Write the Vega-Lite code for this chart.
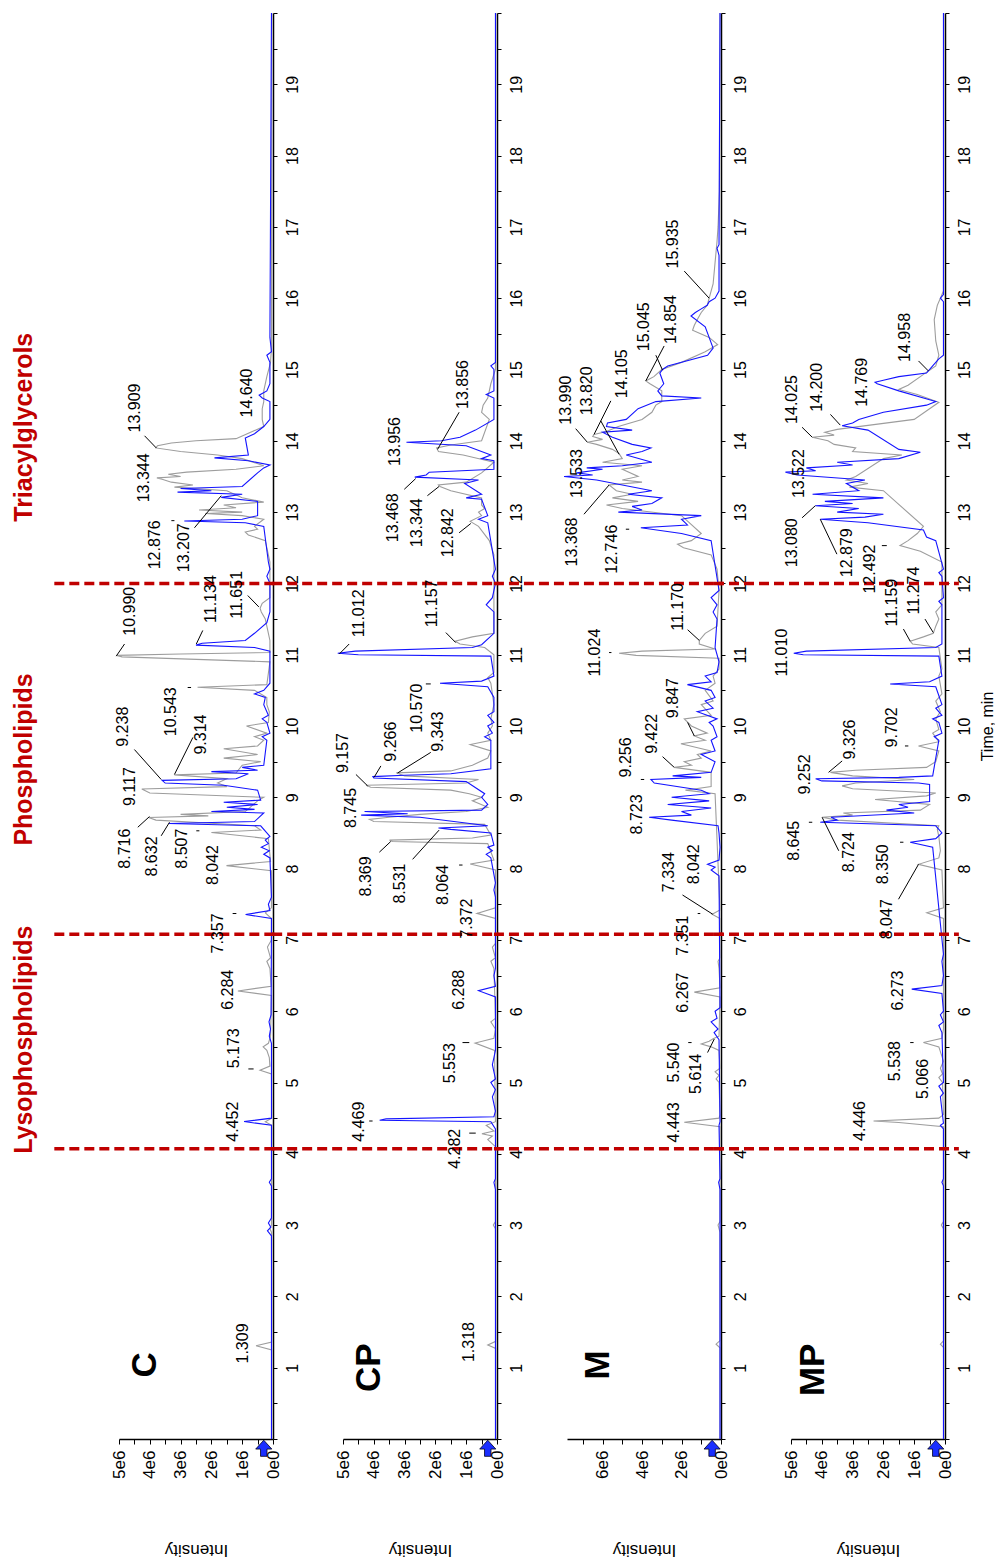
{
"$schema": "https://vega.github.io/schema/vega-lite/v6.json",
"background": "white",
"padding": {"left": 12, "top": 10, "right": 0, "bottom": 0},
"bounds": "flush",
"spacing": 70,
"config": {
  "view": {"stroke": null},
  "text": {"font": "Liberation Sans"},
  "axis": {"grid": false, "domainColor": "#000", "tickColor": "#000", "labelColor": "#000", "titleColor": "#000", "labelFont": "Liberation Sans", "titleFont": "Liberation Sans", "titleFontWeight": "normal", "domainWidth": 1.5, "tickWidth": 1}
},
"datasets": {
"tr": [
{"p":"C","s":"g","t":0,"i":0.04},{"p":"C","s":"g","t":1.25,"i":0.04},{"p":"C","s":"g","t":1.309,"i":0.55},{"p":"C","s":"g","t":1.36,"i":0.04},{"p":"C","s":"g","t":2.9,"i":0.05},{"p":"C","s":"g","t":2.95,"i":0.1},{"p":"C","s":"g","t":3.0,"i":0.05},{"p":"C","s":"g","t":4.4,"i":0.04},{"p":"C","s":"g","t":4.45,"i":0.25},{"p":"C","s":"g","t":4.5,"i":0.04},{"p":"C","s":"g","t":5.12,"i":0.05},{"p":"C","s":"g","t":5.173,"i":0.42},{"p":"C","s":"g","t":5.23,"i":0.1},{"p":"C","s":"g","t":5.35,"i":0.12},{"p":"C","s":"g","t":5.45,"i":0.2},{"p":"C","s":"g","t":5.5,"i":0.32},{"p":"C","s":"g","t":5.55,"i":0.15},{"p":"C","s":"g","t":5.65,"i":0.08},{"p":"C","s":"g","t":6.22,"i":0.05},{"p":"C","s":"g","t":6.284,"i":1.14},{"p":"C","s":"g","t":6.35,"i":0.06},{"p":"C","s":"g","t":6.6,"i":0.1},{"p":"C","s":"g","t":6.7,"i":0.2},{"p":"C","s":"g","t":6.75,"i":0.08},{"p":"C","s":"g","t":6.9,"i":0.18},{"p":"C","s":"g","t":7.0,"i":0.05},{"p":"C","s":"g","t":7.3,"i":0.05},{"p":"C","s":"g","t":7.38,"i":0.25},{"p":"C","s":"g","t":7.45,"i":0.05},{"p":"C","s":"g","t":7.97,"i":0.05},{"p":"C","s":"g","t":8.042,"i":1.51},{"p":"C","s":"g","t":8.1,"i":0.08},{"p":"C","s":"g","t":8.42,"i":0.15},{"p":"C","s":"g","t":8.507,"i":2.0},{"p":"C","s":"g","t":8.54,"i":0.4},{"p":"C","s":"g","t":8.6,"i":0.6},{"p":"C","s":"g","t":8.68,"i":3.8},{"p":"C","s":"g","t":8.716,"i":4.04},{"p":"C","s":"g","t":8.74,"i":2.1},{"p":"C","s":"g","t":8.76,"i":3.0},{"p":"C","s":"g","t":8.8,"i":0.9},{"p":"C","s":"g","t":8.95,"i":0.5},{"p":"C","s":"g","t":9.0,"i":0.3},{"p":"C","s":"g","t":9.06,"i":4.0},{"p":"C","s":"g","t":9.117,"i":4.26},{"p":"C","s":"g","t":9.15,"i":1.5},{"p":"C","s":"g","t":9.2,"i":1.8},{"p":"C","s":"g","t":9.26,"i":1.5},{"p":"C","s":"g","t":9.314,"i":3.2},{"p":"C","s":"g","t":9.34,"i":1.2},{"p":"C","s":"g","t":9.45,"i":1.0},{"p":"C","s":"g","t":9.5,"i":0.4},{"p":"C","s":"g","t":9.55,"i":1.6},{"p":"C","s":"g","t":9.6,"i":0.5},{"p":"C","s":"g","t":9.68,"i":1.6},{"p":"C","s":"g","t":9.72,"i":0.5},{"p":"C","s":"g","t":9.8,"i":0.3},{"p":"C","s":"g","t":9.85,"i":0.6},{"p":"C","s":"g","t":9.9,"i":0.2},{"p":"C","s":"g","t":10.0,"i":0.86},{"p":"C","s":"g","t":10.05,"i":0.15},{"p":"C","s":"g","t":10.2,"i":0.12},{"p":"C","s":"g","t":10.3,"i":0.2},{"p":"C","s":"g","t":10.4,"i":0.2},{"p":"C","s":"g","t":10.5,"i":0.6},{"p":"C","s":"g","t":10.543,"i":2.45},{"p":"C","s":"g","t":10.58,"i":0.2},{"p":"C","s":"g","t":10.9,"i":0.1},{"p":"C","s":"g","t":10.97,"i":4.9},{"p":"C","s":"g","t":10.99,"i":5.08},{"p":"C","s":"g","t":11.01,"i":3.0},{"p":"C","s":"g","t":11.03,"i":0.1},{"p":"C","s":"g","t":11.2,"i":0.1},{"p":"C","s":"g","t":11.5,"i":0.25},{"p":"C","s":"g","t":11.6,"i":0.38},{"p":"C","s":"g","t":11.651,"i":0.42},{"p":"C","s":"g","t":11.72,"i":0.35},{"p":"C","s":"g","t":11.8,"i":0.1},{"p":"C","s":"g","t":12.3,"i":0.1},{"p":"C","s":"g","t":12.5,"i":0.2},{"p":"C","s":"g","t":12.6,"i":0.25},{"p":"C","s":"g","t":12.68,"i":0.8},{"p":"C","s":"g","t":12.72,"i":0.9},{"p":"C","s":"g","t":12.76,"i":0.5},{"p":"C","s":"g","t":12.8,"i":0.6},{"p":"C","s":"g","t":12.9,"i":0.3},{"p":"C","s":"g","t":12.95,"i":1.0},{"p":"C","s":"g","t":12.98,"i":2.2},{"p":"C","s":"g","t":13.0,"i":1.0},{"p":"C","s":"g","t":13.03,"i":2.4},{"p":"C","s":"g","t":13.06,"i":1.2},{"p":"C","s":"g","t":13.1,"i":1.6},{"p":"C","s":"g","t":13.14,"i":0.3},{"p":"C","s":"g","t":13.2,"i":1.0},{"p":"C","s":"g","t":13.3,"i":1.5},{"p":"C","s":"g","t":13.35,"i":3.2},{"p":"C","s":"g","t":13.38,"i":2.6},{"p":"C","s":"g","t":13.42,"i":3.3},{"p":"C","s":"g","t":13.46,"i":3.6},{"p":"C","s":"g","t":13.48,"i":3.77},{"p":"C","s":"g","t":13.5,"i":3.0},{"p":"C","s":"g","t":13.53,"i":3.4},{"p":"C","s":"g","t":13.56,"i":2.8},{"p":"C","s":"g","t":13.6,"i":1.2},{"p":"C","s":"g","t":13.65,"i":0.3},{"p":"C","s":"g","t":13.75,"i":1.0},{"p":"C","s":"g","t":13.8,"i":1.8},{"p":"C","s":"g","t":13.85,"i":3.0},{"p":"C","s":"g","t":13.9,"i":3.8},{"p":"C","s":"g","t":13.93,"i":3.75},{"p":"C","s":"g","t":13.97,"i":3.3},{"p":"C","s":"g","t":14.0,"i":2.5},{"p":"C","s":"g","t":14.03,"i":1.2},{"p":"C","s":"g","t":14.2,"i":0.3},{"p":"C","s":"g","t":14.3,"i":0.35},{"p":"C","s":"g","t":14.45,"i":0.35},{"p":"C","s":"g","t":14.55,"i":0.3},{"p":"C","s":"g","t":14.7,"i":0.3},{"p":"C","s":"g","t":14.9,"i":0.2},{"p":"C","s":"g","t":15.1,"i":0.08},{"p":"C","s":"g","t":15.3,"i":0.05},{"p":"C","s":"g","t":20,"i":0.04},
{"p":"C","s":"b","t":0,"i":0.05},{"p":"C","s":"b","t":2.85,"i":0.05},{"p":"C","s":"b","t":2.92,"i":0.18},{"p":"C","s":"b","t":2.97,"i":0.07},{"p":"C","s":"b","t":3.03,"i":0.15},{"p":"C","s":"b","t":3.1,"i":0.05},{"p":"C","s":"b","t":3.55,"i":0.05},{"p":"C","s":"b","t":3.6,"i":0.12},{"p":"C","s":"b","t":3.65,"i":0.05},{"p":"C","s":"b","t":4.4,"i":0.05},{"p":"C","s":"b","t":4.452,"i":0.94},{"p":"C","s":"b","t":4.5,"i":0.05},{"p":"C","s":"b","t":5.55,"i":0.05},{"p":"C","s":"b","t":5.65,"i":0.12},{"p":"C","s":"b","t":5.75,"i":0.08},{"p":"C","s":"b","t":5.85,"i":0.13},{"p":"C","s":"b","t":5.95,"i":0.06},{"p":"C","s":"b","t":7.3,"i":0.05},{"p":"C","s":"b","t":7.357,"i":0.89},{"p":"C","s":"b","t":7.41,"i":0.1},{"p":"C","s":"b","t":7.5,"i":0.15},{"p":"C","s":"b","t":7.6,"i":0.05},{"p":"C","s":"b","t":8.15,"i":0.1},{"p":"C","s":"b","t":8.2,"i":0.3},{"p":"C","s":"b","t":8.25,"i":0.12},{"p":"C","s":"b","t":8.3,"i":0.38},{"p":"C","s":"b","t":8.35,"i":0.15},{"p":"C","s":"b","t":8.4,"i":0.25},{"p":"C","s":"b","t":8.45,"i":0.1},{"p":"C","s":"b","t":8.6,"i":0.4},{"p":"C","s":"b","t":8.632,"i":3.38},{"p":"C","s":"b","t":8.66,"i":0.6},{"p":"C","s":"b","t":8.78,"i":0.3},{"p":"C","s":"b","t":8.8,"i":2.0},{"p":"C","s":"b","t":8.83,"i":0.6},{"p":"C","s":"b","t":8.86,"i":1.5},{"p":"C","s":"b","t":8.9,"i":0.5},{"p":"C","s":"b","t":8.93,"i":1.6},{"p":"C","s":"b","t":8.96,"i":0.4},{"p":"C","s":"b","t":9.1,"i":0.5},{"p":"C","s":"b","t":9.17,"i":1.6},{"p":"C","s":"b","t":9.2,"i":3.5},{"p":"C","s":"b","t":9.238,"i":3.6},{"p":"C","s":"b","t":9.26,"i":1.2},{"p":"C","s":"b","t":9.33,"i":0.8},{"p":"C","s":"b","t":9.36,"i":2.0},{"p":"C","s":"b","t":9.38,"i":0.5},{"p":"C","s":"b","t":9.42,"i":1.0},{"p":"C","s":"b","t":9.45,"i":0.3},{"p":"C","s":"b","t":9.8,"i":0.2},{"p":"C","s":"b","t":9.85,"i":0.35},{"p":"C","s":"b","t":9.9,"i":0.1},{"p":"C","s":"b","t":10.05,"i":0.2},{"p":"C","s":"b","t":10.1,"i":0.35},{"p":"C","s":"b","t":10.15,"i":0.15},{"p":"C","s":"b","t":10.3,"i":0.3},{"p":"C","s":"b","t":10.4,"i":0.25},{"p":"C","s":"b","t":10.45,"i":0.6},{"p":"C","s":"b","t":10.5,"i":0.3},{"p":"C","s":"b","t":10.6,"i":0.1},{"p":"C","s":"b","t":10.9,"i":0.1},{"p":"C","s":"b","t":11.05,"i":0.1},{"p":"C","s":"b","t":11.1,"i":0.6},{"p":"C","s":"b","t":11.134,"i":2.5},{"p":"C","s":"b","t":11.16,"i":2.3},{"p":"C","s":"b","t":11.2,"i":0.9},{"p":"C","s":"b","t":11.3,"i":0.6},{"p":"C","s":"b","t":11.45,"i":0.2},{"p":"C","s":"b","t":11.6,"i":0.1},{"p":"C","s":"b","t":12.0,"i":0.1},{"p":"C","s":"b","t":12.1,"i":0.2},{"p":"C","s":"b","t":12.2,"i":0.1},{"p":"C","s":"b","t":12.3,"i":0.15},{"p":"C","s":"b","t":12.8,"i":0.3},{"p":"C","s":"b","t":12.85,"i":0.9},{"p":"C","s":"b","t":12.876,"i":2.88},{"p":"C","s":"b","t":12.9,"i":1.0},{"p":"C","s":"b","t":12.95,"i":0.5},{"p":"C","s":"b","t":13.15,"i":0.5},{"p":"C","s":"b","t":13.207,"i":1.68},{"p":"C","s":"b","t":13.25,"i":1.0},{"p":"C","s":"b","t":13.28,"i":3.1},{"p":"C","s":"b","t":13.3,"i":2.0},{"p":"C","s":"b","t":13.33,"i":3.0},{"p":"C","s":"b","t":13.36,"i":1.0},{"p":"C","s":"b","t":13.55,"i":0.5},{"p":"C","s":"b","t":13.62,"i":0.3},{"p":"C","s":"b","t":13.66,"i":0.1},{"p":"C","s":"b","t":13.72,"i":0.8},{"p":"C","s":"b","t":13.76,"i":1.9},{"p":"C","s":"b","t":13.8,"i":0.8},{"p":"C","s":"b","t":14.04,"i":0.9},{"p":"C","s":"b","t":14.1,"i":0.6},{"p":"C","s":"b","t":14.2,"i":0.3},{"p":"C","s":"b","t":14.3,"i":0.1},{"p":"C","s":"b","t":14.55,"i":0.1},{"p":"C","s":"b","t":14.6,"i":0.35},{"p":"C","s":"b","t":14.64,"i":0.45},{"p":"C","s":"b","t":14.7,"i":0.2},{"p":"C","s":"b","t":14.8,"i":0.1},{"p":"C","s":"b","t":15.1,"i":0.1},{"p":"C","s":"b","t":15.2,"i":0.2},{"p":"C","s":"b","t":15.25,"i":0.05},{"p":"C","s":"b","t":15.45,"i":0.1},{"p":"C","s":"b","t":20,"i":0.05},
{"p":"CP","s":"g","t":0,"i":0.04},{"p":"CP","s":"g","t":1.27,"i":0.04},{"p":"CP","s":"g","t":1.318,"i":0.3},{"p":"CP","s":"g","t":1.37,"i":0.04},{"p":"CP","s":"g","t":2.95,"i":0.05},{"p":"CP","s":"g","t":3.0,"i":0.12},{"p":"CP","s":"g","t":3.05,"i":0.05},{"p":"CP","s":"g","t":4.1,"i":0.05},{"p":"CP","s":"g","t":4.2,"i":0.3},{"p":"CP","s":"g","t":4.25,"i":0.15},{"p":"CP","s":"g","t":4.282,"i":0.49},{"p":"CP","s":"g","t":4.32,"i":0.1},{"p":"CP","s":"g","t":4.4,"i":0.35},{"p":"CP","s":"g","t":4.45,"i":0.05},{"p":"CP","s":"g","t":5.45,"i":0.08},{"p":"CP","s":"g","t":5.553,"i":0.71},{"p":"CP","s":"g","t":5.62,"i":0.1},{"p":"CP","s":"g","t":5.75,"i":0.05},{"p":"CP","s":"g","t":5.85,"i":0.2},{"p":"CP","s":"g","t":5.9,"i":0.05},{"p":"CP","s":"g","t":6.6,"i":0.1},{"p":"CP","s":"g","t":6.7,"i":0.2},{"p":"CP","s":"g","t":6.75,"i":0.05},{"p":"CP","s":"g","t":6.9,"i":0.15},{"p":"CP","s":"g","t":6.95,"i":0.05},{"p":"CP","s":"g","t":7.3,"i":0.05},{"p":"CP","s":"g","t":7.372,"i":0.65},{"p":"CP","s":"g","t":7.45,"i":0.05},{"p":"CP","s":"g","t":7.98,"i":0.05},{"p":"CP","s":"g","t":8.064,"i":0.87},{"p":"CP","s":"g","t":8.12,"i":0.1},{"p":"CP","s":"g","t":8.35,"i":0.3},{"p":"CP","s":"g","t":8.38,"i":3.4},{"p":"CP","s":"g","t":8.4,"i":3.49},{"p":"CP","s":"g","t":8.43,"i":0.8},{"p":"CP","s":"g","t":8.47,"i":0.2},{"p":"CP","s":"g","t":8.62,"i":0.4},{"p":"CP","s":"g","t":8.66,"i":4.0},{"p":"CP","s":"g","t":8.69,"i":4.14},{"p":"CP","s":"g","t":8.72,"i":3.5},{"p":"CP","s":"g","t":8.76,"i":2.5},{"p":"CP","s":"g","t":8.8,"i":1.0},{"p":"CP","s":"g","t":8.86,"i":0.3},{"p":"CP","s":"g","t":8.95,"i":0.8},{"p":"CP","s":"g","t":9.0,"i":0.5},{"p":"CP","s":"g","t":9.05,"i":0.9},{"p":"CP","s":"g","t":9.1,"i":1.5},{"p":"CP","s":"g","t":9.14,"i":4.1},{"p":"CP","s":"g","t":9.17,"i":4.25},{"p":"CP","s":"g","t":9.2,"i":1.0},{"p":"CP","s":"g","t":9.25,"i":0.6},{"p":"CP","s":"g","t":9.3,"i":3.0},{"p":"CP","s":"g","t":9.343,"i":3.27},{"p":"CP","s":"g","t":9.37,"i":1.5},{"p":"CP","s":"g","t":9.45,"i":0.8},{"p":"CP","s":"g","t":9.55,"i":0.3},{"p":"CP","s":"g","t":9.65,"i":0.2},{"p":"CP","s":"g","t":9.74,"i":0.87},{"p":"CP","s":"g","t":9.8,"i":0.2},{"p":"CP","s":"g","t":9.9,"i":0.3},{"p":"CP","s":"g","t":10.0,"i":0.15},{"p":"CP","s":"g","t":10.1,"i":0.2},{"p":"CP","s":"g","t":10.3,"i":0.1},{"p":"CP","s":"g","t":10.6,"i":0.2},{"p":"CP","s":"g","t":10.68,"i":0.3},{"p":"CP","s":"g","t":10.75,"i":0.1},{"p":"CP","s":"g","t":11.0,"i":0.1},{"p":"CP","s":"g","t":11.1,"i":0.4},{"p":"CP","s":"g","t":11.15,"i":1.2},{"p":"CP","s":"g","t":11.19,"i":1.36},{"p":"CP","s":"g","t":11.25,"i":0.8},{"p":"CP","s":"g","t":11.3,"i":0.1},{"p":"CP","s":"g","t":12.4,"i":0.1},{"p":"CP","s":"g","t":12.6,"i":0.25},{"p":"CP","s":"g","t":12.8,"i":0.6},{"p":"CP","s":"g","t":12.87,"i":0.87},{"p":"CP","s":"g","t":12.95,"i":0.5},{"p":"CP","s":"g","t":13.0,"i":0.6},{"p":"CP","s":"g","t":13.05,"i":0.4},{"p":"CP","s":"g","t":13.1,"i":0.5},{"p":"CP","s":"g","t":13.2,"i":0.5},{"p":"CP","s":"g","t":13.3,"i":1.5},{"p":"CP","s":"g","t":13.36,"i":1.85},{"p":"CP","s":"g","t":13.38,"i":1.9},{"p":"CP","s":"g","t":13.42,"i":1.0},{"p":"CP","s":"g","t":13.55,"i":0.5},{"p":"CP","s":"g","t":13.7,"i":0.1},{"p":"CP","s":"g","t":13.8,"i":1.1},{"p":"CP","s":"g","t":13.85,"i":1.9},{"p":"CP","s":"g","t":13.9,"i":1.96},{"p":"CP","s":"g","t":13.94,"i":1.5},{"p":"CP","s":"g","t":14.0,"i":0.5},{"p":"CP","s":"g","t":14.3,"i":0.25},{"p":"CP","s":"g","t":14.4,"i":0.5},{"p":"CP","s":"g","t":14.5,"i":0.45},{"p":"CP","s":"g","t":14.6,"i":0.3},{"p":"CP","s":"g","t":14.8,"i":0.2},{"p":"CP","s":"g","t":15.0,"i":0.05},{"p":"CP","s":"g","t":20,"i":0.04},
{"p":"CP","s":"b","t":0,"i":0.05},{"p":"CP","s":"b","t":3.5,"i":0.05},{"p":"CP","s":"b","t":3.6,"i":0.1},{"p":"CP","s":"b","t":3.65,"i":0.05},{"p":"CP","s":"b","t":4.35,"i":0.05},{"p":"CP","s":"b","t":4.45,"i":0.2},{"p":"CP","s":"b","t":4.47,"i":3.81},{"p":"CP","s":"b","t":4.49,"i":3.6},{"p":"CP","s":"b","t":4.52,"i":0.1},{"p":"CP","s":"b","t":4.6,"i":0.05},{"p":"CP","s":"b","t":4.8,"i":0.15},{"p":"CP","s":"b","t":4.9,"i":0.05},{"p":"CP","s":"b","t":5.0,"i":0.2},{"p":"CP","s":"b","t":5.05,"i":0.05},{"p":"CP","s":"b","t":5.25,"i":0.15},{"p":"CP","s":"b","t":5.35,"i":0.1},{"p":"CP","s":"b","t":5.45,"i":0.05},{"p":"CP","s":"b","t":6.2,"i":0.05},{"p":"CP","s":"b","t":6.288,"i":0.6},{"p":"CP","s":"b","t":6.35,"i":0.05},{"p":"CP","s":"b","t":6.5,"i":0.1},{"p":"CP","s":"b","t":6.6,"i":0.05},{"p":"CP","s":"b","t":7.6,"i":0.05},{"p":"CP","s":"b","t":7.7,"i":0.1},{"p":"CP","s":"b","t":7.8,"i":0.05},{"p":"CP","s":"b","t":8.15,"i":0.2},{"p":"CP","s":"b","t":8.2,"i":0.35},{"p":"CP","s":"b","t":8.25,"i":0.15},{"p":"CP","s":"b","t":8.3,"i":0.3},{"p":"CP","s":"b","t":8.33,"i":0.1},{"p":"CP","s":"b","t":8.5,"i":0.2},{"p":"CP","s":"b","t":8.55,"i":1.5},{"p":"CP","s":"b","t":8.57,"i":1.9},{"p":"CP","s":"b","t":8.6,"i":0.3},{"p":"CP","s":"b","t":8.72,"i":2.5},{"p":"CP","s":"b","t":8.75,"i":4.41},{"p":"CP","s":"b","t":8.77,"i":2.9},{"p":"CP","s":"b","t":8.8,"i":4.3},{"p":"CP","s":"b","t":8.82,"i":0.5},{"p":"CP","s":"b","t":8.9,"i":0.3},{"p":"CP","s":"b","t":9.0,"i":0.5},{"p":"CP","s":"b","t":9.05,"i":0.4},{"p":"CP","s":"b","t":9.22,"i":1.0},{"p":"CP","s":"b","t":9.27,"i":4.0},{"p":"CP","s":"b","t":9.29,"i":4.03},{"p":"CP","s":"b","t":9.31,"i":3.0},{"p":"CP","s":"b","t":9.33,"i":1.5},{"p":"CP","s":"b","t":9.4,"i":0.2},{"p":"CP","s":"b","t":9.8,"i":0.2},{"p":"CP","s":"b","t":9.85,"i":0.4},{"p":"CP","s":"b","t":9.9,"i":0.15},{"p":"CP","s":"b","t":10.0,"i":0.3},{"p":"CP","s":"b","t":10.05,"i":0.1},{"p":"CP","s":"b","t":10.15,"i":0.3},{"p":"CP","s":"b","t":10.2,"i":0.1},{"p":"CP","s":"b","t":10.4,"i":0.1},{"p":"CP","s":"b","t":10.55,"i":0.3},{"p":"CP","s":"b","t":10.6,"i":1.85},{"p":"CP","s":"b","t":10.63,"i":0.5},{"p":"CP","s":"b","t":10.7,"i":0.1},{"p":"CP","s":"b","t":10.98,"i":0.2},{"p":"CP","s":"b","t":11.0,"i":4.5},{"p":"CP","s":"b","t":11.02,"i":5.17},{"p":"CP","s":"b","t":11.05,"i":4.6},{"p":"CP","s":"b","t":11.1,"i":0.8},{"p":"CP","s":"b","t":11.14,"i":0.5},{"p":"CP","s":"b","t":11.3,"i":0.1},{"p":"CP","s":"b","t":11.6,"i":0.1},{"p":"CP","s":"b","t":11.7,"i":0.35},{"p":"CP","s":"b","t":11.8,"i":0.15},{"p":"CP","s":"b","t":12.0,"i":0.05},{"p":"CP","s":"b","t":12.1,"i":0.15},{"p":"CP","s":"b","t":12.2,"i":0.05},{"p":"CP","s":"b","t":12.85,"i":0.3},{"p":"CP","s":"b","t":12.9,"i":0.6},{"p":"CP","s":"b","t":12.95,"i":0.3},{"p":"CP","s":"b","t":13.18,"i":0.5},{"p":"CP","s":"b","t":13.2,"i":1.0},{"p":"CP","s":"b","t":13.25,"i":0.5},{"p":"CP","s":"b","t":13.4,"i":1.05},{"p":"CP","s":"b","t":13.45,"i":0.6},{"p":"CP","s":"b","t":13.49,"i":2.67},{"p":"CP","s":"b","t":13.52,"i":2.3},{"p":"CP","s":"b","t":13.56,"i":2.2},{"p":"CP","s":"b","t":13.6,"i":0.1},{"p":"CP","s":"b","t":13.72,"i":0.1},{"p":"CP","s":"b","t":13.75,"i":0.5},{"p":"CP","s":"b","t":13.8,"i":0.2},{"p":"CP","s":"b","t":13.93,"i":1.0},{"p":"CP","s":"b","t":13.98,"i":2.94},{"p":"CP","s":"b","t":14.0,"i":1.8},{"p":"CP","s":"b","t":14.05,"i":1.2},{"p":"CP","s":"b","t":14.15,"i":0.7},{"p":"CP","s":"b","t":14.3,"i":0.1},{"p":"CP","s":"b","t":14.6,"i":0.1},{"p":"CP","s":"b","t":14.65,"i":0.35},{"p":"CP","s":"b","t":14.7,"i":0.1},{"p":"CP","s":"b","t":15.0,"i":0.1},{"p":"CP","s":"b","t":15.05,"i":0.2},{"p":"CP","s":"b","t":15.1,"i":0.05},{"p":"CP","s":"b","t":20,"i":0.05},
{"p":"M","s":"g","t":0,"i":0.05},{"p":"M","s":"g","t":1.28,"i":0.05},{"p":"M","s":"g","t":1.33,"i":0.25},{"p":"M","s":"g","t":1.38,"i":0.05},{"p":"M","s":"g","t":2.9,"i":0.05},{"p":"M","s":"g","t":3.0,"i":0.15},{"p":"M","s":"g","t":3.05,"i":0.05},{"p":"M","s":"g","t":4.38,"i":0.05},{"p":"M","s":"g","t":4.443,"i":1.86},{"p":"M","s":"g","t":4.5,"i":0.1},{"p":"M","s":"g","t":4.55,"i":0.05},{"p":"M","s":"g","t":5.0,"i":0.1},{"p":"M","s":"g","t":5.05,"i":0.25},{"p":"M","s":"g","t":5.1,"i":0.1},{"p":"M","s":"g","t":5.15,"i":0.3},{"p":"M","s":"g","t":5.2,"i":0.05},{"p":"M","s":"g","t":5.45,"i":0.1},{"p":"M","s":"g","t":5.5,"i":0.5},{"p":"M","s":"g","t":5.54,"i":1.0},{"p":"M","s":"g","t":5.58,"i":0.6},{"p":"M","s":"g","t":5.614,"i":0.4},{"p":"M","s":"g","t":5.65,"i":0.1},{"p":"M","s":"g","t":6.2,"i":0.05},{"p":"M","s":"g","t":6.267,"i":1.35},{"p":"M","s":"g","t":6.33,"i":0.05},{"p":"M","s":"g","t":6.6,"i":0.1},{"p":"M","s":"g","t":6.7,"i":0.15},{"p":"M","s":"g","t":6.75,"i":0.05},{"p":"M","s":"g","t":7.3,"i":0.05},{"p":"M","s":"g","t":7.36,"i":0.45},{"p":"M","s":"g","t":7.42,"i":0.05},{"p":"M","s":"g","t":9.05,"i":0.3},{"p":"M","s":"g","t":9.1,"i":1.8},{"p":"M","s":"g","t":9.15,"i":0.5},{"p":"M","s":"g","t":9.35,"i":0.5},{"p":"M","s":"g","t":9.42,"i":2.37},{"p":"M","s":"g","t":9.45,"i":1.5},{"p":"M","s":"g","t":9.5,"i":1.86},{"p":"M","s":"g","t":9.55,"i":1.0},{"p":"M","s":"g","t":9.6,"i":1.2},{"p":"M","s":"g","t":9.65,"i":0.5},{"p":"M","s":"g","t":9.75,"i":2.03},{"p":"M","s":"g","t":9.8,"i":0.8},{"p":"M","s":"g","t":9.86,"i":1.35},{"p":"M","s":"g","t":9.9,"i":0.7},{"p":"M","s":"g","t":10.0,"i":1.5},{"p":"M","s":"g","t":10.1,"i":1.86},{"p":"M","s":"g","t":10.15,"i":0.5},{"p":"M","s":"g","t":10.3,"i":1.0},{"p":"M","s":"g","t":10.35,"i":0.4},{"p":"M","s":"g","t":10.5,"i":0.8},{"p":"M","s":"g","t":10.6,"i":0.3},{"p":"M","s":"g","t":10.7,"i":0.4},{"p":"M","s":"g","t":10.8,"i":0.1},{"p":"M","s":"g","t":10.95,"i":0.1},{"p":"M","s":"g","t":10.99,"i":4.3},{"p":"M","s":"g","t":11.02,"i":5.16},{"p":"M","s":"g","t":11.05,"i":4.0},{"p":"M","s":"g","t":11.08,"i":0.3},{"p":"M","s":"g","t":11.15,"i":1.1},{"p":"M","s":"g","t":11.2,"i":1.1},{"p":"M","s":"g","t":11.3,"i":0.8},{"p":"M","s":"g","t":11.4,"i":0.2},{"p":"M","s":"g","t":11.9,"i":0.1},{"p":"M","s":"g","t":12.2,"i":0.2},{"p":"M","s":"g","t":12.4,"i":0.5},{"p":"M","s":"g","t":12.5,"i":1.9},{"p":"M","s":"g","t":12.55,"i":2.2},{"p":"M","s":"g","t":12.6,"i":1.5},{"p":"M","s":"g","t":12.7,"i":1.0},{"p":"M","s":"g","t":12.95,"i":2.0},{"p":"M","s":"g","t":13.05,"i":5.0},{"p":"M","s":"g","t":13.1,"i":5.8},{"p":"M","s":"g","t":13.15,"i":4.2},{"p":"M","s":"g","t":13.2,"i":5.5},{"p":"M","s":"g","t":13.25,"i":4.5},{"p":"M","s":"g","t":13.3,"i":5.3},{"p":"M","s":"g","t":13.38,"i":5.67},{"p":"M","s":"g","t":13.42,"i":4.0},{"p":"M","s":"g","t":13.45,"i":5.0},{"p":"M","s":"g","t":13.5,"i":4.2},{"p":"M","s":"g","t":13.6,"i":5.0},{"p":"M","s":"g","t":13.65,"i":4.0},{"p":"M","s":"g","t":13.7,"i":6.0},{"p":"M","s":"g","t":13.75,"i":5.0},{"p":"M","s":"g","t":13.82,"i":5.16},{"p":"M","s":"g","t":13.88,"i":5.5},{"p":"M","s":"g","t":13.95,"i":6.3},{"p":"M","s":"g","t":13.98,"i":6.77},{"p":"M","s":"g","t":14.02,"i":6.0},{"p":"M","s":"g","t":14.06,"i":6.5},{"p":"M","s":"g","t":14.09,"i":6.43},{"p":"M","s":"g","t":14.13,"i":5.8},{"p":"M","s":"g","t":14.2,"i":5.2},{"p":"M","s":"g","t":14.3,"i":4.0},{"p":"M","s":"g","t":14.4,"i":3.5},{"p":"M","s":"g","t":14.5,"i":3.3},{"p":"M","s":"g","t":14.55,"i":3.0},{"p":"M","s":"g","t":14.7,"i":3.0},{"p":"M","s":"g","t":14.8,"i":3.6},{"p":"M","s":"g","t":14.84,"i":3.81},{"p":"M","s":"g","t":14.9,"i":3.4},{"p":"M","s":"g","t":15.0,"i":3.0},{"p":"M","s":"g","t":15.1,"i":2.0},{"p":"M","s":"g","t":15.25,"i":0.8},{"p":"M","s":"g","t":15.35,"i":0.17},{"p":"M","s":"g","t":15.45,"i":0.6},{"p":"M","s":"g","t":15.55,"i":1.44},{"p":"M","s":"g","t":15.62,"i":1.35},{"p":"M","s":"g","t":15.7,"i":1.2},{"p":"M","s":"g","t":15.8,"i":1.0},{"p":"M","s":"g","t":15.9,"i":0.7},{"p":"M","s":"g","t":16.0,"i":0.6},{"p":"M","s":"g","t":16.2,"i":0.4},{"p":"M","s":"g","t":16.5,"i":0.3},{"p":"M","s":"g","t":16.8,"i":0.2},{"p":"M","s":"g","t":17.0,"i":0.15},{"p":"M","s":"g","t":17.5,"i":0.08},{"p":"M","s":"g","t":20,"i":0.05},
{"p":"M","s":"b","t":0,"i":0.05},{"p":"M","s":"b","t":3.5,"i":0.05},{"p":"M","s":"b","t":3.6,"i":0.12},{"p":"M","s":"b","t":3.65,"i":0.05},{"p":"M","s":"b","t":4.4,"i":0.1},{"p":"M","s":"b","t":4.45,"i":0.05},{"p":"M","s":"b","t":5.6,"i":0.1},{"p":"M","s":"b","t":5.7,"i":0.35},{"p":"M","s":"b","t":5.75,"i":0.15},{"p":"M","s":"b","t":5.85,"i":0.5},{"p":"M","s":"b","t":5.9,"i":0.2},{"p":"M","s":"b","t":6.0,"i":0.3},{"p":"M","s":"b","t":6.05,"i":0.05},{"p":"M","s":"b","t":7.9,"i":0.1},{"p":"M","s":"b","t":7.98,"i":0.5},{"p":"M","s":"b","t":8.02,"i":0.3},{"p":"M","s":"b","t":8.06,"i":0.68},{"p":"M","s":"b","t":8.12,"i":0.1},{"p":"M","s":"b","t":8.3,"i":0.05},{"p":"M","s":"b","t":8.5,"i":0.1},{"p":"M","s":"b","t":8.6,"i":0.15},{"p":"M","s":"b","t":8.68,"i":2.5},{"p":"M","s":"b","t":8.72,"i":3.64},{"p":"M","s":"b","t":8.75,"i":1.5},{"p":"M","s":"b","t":8.8,"i":2.0},{"p":"M","s":"b","t":8.85,"i":0.5},{"p":"M","s":"b","t":8.9,"i":2.7},{"p":"M","s":"b","t":8.95,"i":0.6},{"p":"M","s":"b","t":9.0,"i":2.5},{"p":"M","s":"b","t":9.05,"i":0.6},{"p":"M","s":"b","t":9.1,"i":1.0},{"p":"M","s":"b","t":9.2,"i":3.38},{"p":"M","s":"b","t":9.25,"i":3.55},{"p":"M","s":"b","t":9.28,"i":1.0},{"p":"M","s":"b","t":9.3,"i":2.45},{"p":"M","s":"b","t":9.35,"i":0.5},{"p":"M","s":"b","t":9.5,"i":0.3},{"p":"M","s":"b","t":9.6,"i":1.0},{"p":"M","s":"b","t":9.65,"i":0.3},{"p":"M","s":"b","t":9.8,"i":0.5},{"p":"M","s":"b","t":9.85,"i":0.2},{"p":"M","s":"b","t":10.0,"i":0.4},{"p":"M","s":"b","t":10.05,"i":0.6},{"p":"M","s":"b","t":10.1,"i":0.2},{"p":"M","s":"b","t":10.2,"i":1.2},{"p":"M","s":"b","t":10.25,"i":0.4},{"p":"M","s":"b","t":10.35,"i":0.8},{"p":"M","s":"b","t":10.4,"i":0.3},{"p":"M","s":"b","t":10.5,"i":0.5},{"p":"M","s":"b","t":10.58,"i":1.7},{"p":"M","s":"b","t":10.62,"i":0.5},{"p":"M","s":"b","t":10.7,"i":0.8},{"p":"M","s":"b","t":10.75,"i":0.2},{"p":"M","s":"b","t":10.9,"i":0.1},{"p":"M","s":"b","t":11.1,"i":0.3},{"p":"M","s":"b","t":11.5,"i":0.2},{"p":"M","s":"b","t":11.6,"i":0.4},{"p":"M","s":"b","t":11.7,"i":0.2},{"p":"M","s":"b","t":11.8,"i":0.5},{"p":"M","s":"b","t":11.9,"i":0.1},{"p":"M","s":"b","t":12.6,"i":0.5},{"p":"M","s":"b","t":12.7,"i":2.0},{"p":"M","s":"b","t":12.78,"i":4.06},{"p":"M","s":"b","t":12.82,"i":1.7},{"p":"M","s":"b","t":12.9,"i":2.0},{"p":"M","s":"b","t":12.95,"i":1.0},{"p":"M","s":"b","t":13.0,"i":5.2},{"p":"M","s":"b","t":13.03,"i":4.0},{"p":"M","s":"b","t":13.08,"i":4.5},{"p":"M","s":"b","t":13.12,"i":3.5},{"p":"M","s":"b","t":13.2,"i":3.0},{"p":"M","s":"b","t":13.25,"i":4.7},{"p":"M","s":"b","t":13.3,"i":3.5},{"p":"M","s":"b","t":13.45,"i":6.3},{"p":"M","s":"b","t":13.5,"i":7.95},{"p":"M","s":"b","t":13.52,"i":6.5},{"p":"M","s":"b","t":13.55,"i":7.3},{"p":"M","s":"b","t":13.6,"i":6.0},{"p":"M","s":"b","t":13.62,"i":6.8},{"p":"M","s":"b","t":13.65,"i":5.0},{"p":"M","s":"b","t":13.7,"i":3.5},{"p":"M","s":"b","t":13.8,"i":4.8},{"p":"M","s":"b","t":13.85,"i":4.0},{"p":"M","s":"b","t":13.9,"i":3.55},{"p":"M","s":"b","t":13.95,"i":4.5},{"p":"M","s":"b","t":14.05,"i":5.5},{"p":"M","s":"b","t":14.12,"i":6.0},{"p":"M","s":"b","t":14.15,"i":4.5},{"p":"M","s":"b","t":14.2,"i":5.8},{"p":"M","s":"b","t":14.25,"i":5.75},{"p":"M","s":"b","t":14.3,"i":4.8},{"p":"M","s":"b","t":14.45,"i":4.2},{"p":"M","s":"b","t":14.55,"i":3.3},{"p":"M","s":"b","t":14.6,"i":1.0},{"p":"M","s":"b","t":14.63,"i":3.0},{"p":"M","s":"b","t":14.7,"i":3.2},{"p":"M","s":"b","t":14.8,"i":2.9},{"p":"M","s":"b","t":14.95,"i":3.1},{"p":"M","s":"b","t":15.0,"i":2.96},{"p":"M","s":"b","t":15.05,"i":2.7},{"p":"M","s":"b","t":15.2,"i":0.68},{"p":"M","s":"b","t":15.3,"i":0.4},{"p":"M","s":"b","t":15.6,"i":0.8},{"p":"M","s":"b","t":15.75,"i":1.52},{"p":"M","s":"b","t":15.8,"i":1.3},{"p":"M","s":"b","t":15.85,"i":1.0},{"p":"M","s":"b","t":15.9,"i":0.7},{"p":"M","s":"b","t":15.95,"i":0.6},{"p":"M","s":"b","t":16.0,"i":0.3},{"p":"M","s":"b","t":16.1,"i":0.1},{"p":"M","s":"b","t":16.6,"i":0.1},{"p":"M","s":"b","t":16.7,"i":0.2},{"p":"M","s":"b","t":16.75,"i":0.1},{"p":"M","s":"b","t":20,"i":0.05},
{"p":"MP","s":"g","t":0,"i":0.04},{"p":"MP","s":"g","t":1.28,"i":0.04},{"p":"MP","s":"g","t":1.33,"i":0.15},{"p":"MP","s":"g","t":1.38,"i":0.04},{"p":"MP","s":"g","t":2.95,"i":0.05},{"p":"MP","s":"g","t":3.0,"i":0.12},{"p":"MP","s":"g","t":3.05,"i":0.05},{"p":"MP","s":"g","t":4.38,"i":0.05},{"p":"MP","s":"g","t":4.44,"i":1.5},{"p":"MP","s":"g","t":4.46,"i":2.32},{"p":"MP","s":"g","t":4.5,"i":0.2},{"p":"MP","s":"g","t":4.55,"i":0.05},{"p":"MP","s":"g","t":5.0,"i":0.08},{"p":"MP","s":"g","t":5.07,"i":0.2},{"p":"MP","s":"g","t":5.12,"i":0.08},{"p":"MP","s":"g","t":5.2,"i":0.15},{"p":"MP","s":"g","t":5.3,"i":0.05},{"p":"MP","s":"g","t":5.5,"i":0.2},{"p":"MP","s":"g","t":5.56,"i":0.7},{"p":"MP","s":"g","t":5.62,"i":0.1},{"p":"MP","s":"g","t":5.75,"i":0.05},{"p":"MP","s":"g","t":7.3,"i":0.05},{"p":"MP","s":"g","t":7.38,"i":0.59},{"p":"MP","s":"g","t":7.45,"i":0.05},{"p":"MP","s":"g","t":7.98,"i":0.1},{"p":"MP","s":"g","t":8.06,"i":0.86},{"p":"MP","s":"g","t":8.15,"i":0.2},{"p":"MP","s":"g","t":8.25,"i":0.15},{"p":"MP","s":"g","t":8.45,"i":0.2},{"p":"MP","s":"g","t":8.55,"i":0.25},{"p":"MP","s":"g","t":8.6,"i":0.2},{"p":"MP","s":"g","t":8.68,"i":3.5},{"p":"MP","s":"g","t":8.72,"i":3.99},{"p":"MP","s":"g","t":8.75,"i":3.0},{"p":"MP","s":"g","t":8.78,"i":3.3},{"p":"MP","s":"g","t":8.82,"i":0.8},{"p":"MP","s":"g","t":8.9,"i":0.5},{"p":"MP","s":"g","t":8.97,"i":2.27},{"p":"MP","s":"g","t":9.02,"i":0.6},{"p":"MP","s":"g","t":9.06,"i":0.3},{"p":"MP","s":"g","t":9.12,"i":3.0},{"p":"MP","s":"g","t":9.16,"i":3.34},{"p":"MP","s":"g","t":9.2,"i":2.9},{"p":"MP","s":"g","t":9.25,"i":1.0},{"p":"MP","s":"g","t":9.3,"i":3.0},{"p":"MP","s":"g","t":9.35,"i":3.72},{"p":"MP","s":"g","t":9.38,"i":2.9},{"p":"MP","s":"g","t":9.42,"i":0.6},{"p":"MP","s":"g","t":9.5,"i":0.3},{"p":"MP","s":"g","t":9.65,"i":0.2},{"p":"MP","s":"g","t":9.72,"i":0.86},{"p":"MP","s":"g","t":9.78,"i":0.2},{"p":"MP","s":"g","t":9.9,"i":0.4},{"p":"MP","s":"g","t":9.95,"i":0.2},{"p":"MP","s":"g","t":10.1,"i":0.3},{"p":"MP","s":"g","t":10.2,"i":0.15},{"p":"MP","s":"g","t":10.35,"i":0.3},{"p":"MP","s":"g","t":10.45,"i":0.1},{"p":"MP","s":"g","t":10.7,"i":0.2},{"p":"MP","s":"g","t":10.8,"i":0.1},{"p":"MP","s":"g","t":11.1,"i":0.2},{"p":"MP","s":"g","t":11.15,"i":1.05},{"p":"MP","s":"g","t":11.19,"i":1.13},{"p":"MP","s":"g","t":11.25,"i":0.7},{"p":"MP","s":"g","t":11.3,"i":0.38},{"p":"MP","s":"g","t":11.4,"i":0.3},{"p":"MP","s":"g","t":11.5,"i":0.2},{"p":"MP","s":"g","t":11.6,"i":0.3},{"p":"MP","s":"g","t":11.7,"i":0.1},{"p":"MP","s":"g","t":12.3,"i":0.1},{"p":"MP","s":"g","t":12.45,"i":0.8},{"p":"MP","s":"g","t":12.53,"i":1.46},{"p":"MP","s":"g","t":12.6,"i":1.2},{"p":"MP","s":"g","t":12.7,"i":0.9},{"p":"MP","s":"g","t":12.8,"i":0.7},{"p":"MP","s":"g","t":13.3,"i":2.0},{"p":"MP","s":"g","t":13.35,"i":3.1},{"p":"MP","s":"g","t":13.4,"i":2.5},{"p":"MP","s":"g","t":13.45,"i":3.2},{"p":"MP","s":"g","t":13.5,"i":2.9},{"p":"MP","s":"g","t":13.75,"i":2.0},{"p":"MP","s":"g","t":13.8,"i":1.4},{"p":"MP","s":"g","t":13.85,"i":3.0},{"p":"MP","s":"g","t":13.9,"i":2.9},{"p":"MP","s":"g","t":13.95,"i":3.6},{"p":"MP","s":"g","t":14.0,"i":3.8},{"p":"MP","s":"g","t":14.05,"i":4.31},{"p":"MP","s":"g","t":14.08,"i":3.6},{"p":"MP","s":"g","t":14.12,"i":3.9},{"p":"MP","s":"g","t":14.16,"i":3.5},{"p":"MP","s":"g","t":14.3,"i":1.0},{"p":"MP","s":"g","t":14.45,"i":0.5},{"p":"MP","s":"g","t":14.54,"i":0.2},{"p":"MP","s":"g","t":14.65,"i":0.9},{"p":"MP","s":"g","t":14.72,"i":1.5},{"p":"MP","s":"g","t":14.78,"i":1.2},{"p":"MP","s":"g","t":14.9,"i":0.8},{"p":"MP","s":"g","t":14.98,"i":0.54},{"p":"MP","s":"g","t":15.05,"i":0.3},{"p":"MP","s":"g","t":15.2,"i":0.2},{"p":"MP","s":"g","t":15.4,"i":0.3},{"p":"MP","s":"g","t":15.7,"i":0.35},{"p":"MP","s":"g","t":15.9,"i":0.25},{"p":"MP","s":"g","t":16.1,"i":0.05},{"p":"MP","s":"g","t":20,"i":0.04},
{"p":"MP","s":"b","t":0,"i":0.05},{"p":"MP","s":"b","t":3.55,"i":0.05},{"p":"MP","s":"b","t":3.6,"i":0.1},{"p":"MP","s":"b","t":3.65,"i":0.05},{"p":"MP","s":"b","t":4.35,"i":0.05},{"p":"MP","s":"b","t":4.4,"i":0.15},{"p":"MP","s":"b","t":4.43,"i":0.05},{"p":"MP","s":"b","t":4.8,"i":0.15},{"p":"MP","s":"b","t":4.85,"i":0.05},{"p":"MP","s":"b","t":4.95,"i":0.2},{"p":"MP","s":"b","t":5.0,"i":0.05},{"p":"MP","s":"b","t":5.7,"i":0.1},{"p":"MP","s":"b","t":5.8,"i":0.2},{"p":"MP","s":"b","t":5.85,"i":0.05},{"p":"MP","s":"b","t":5.95,"i":0.15},{"p":"MP","s":"b","t":6.0,"i":0.05},{"p":"MP","s":"b","t":6.25,"i":0.1},{"p":"MP","s":"b","t":6.31,"i":1.08},{"p":"MP","s":"b","t":6.36,"i":0.1},{"p":"MP","s":"b","t":6.5,"i":0.05},{"p":"MP","s":"b","t":6.7,"i":0.1},{"p":"MP","s":"b","t":6.8,"i":0.05},{"p":"MP","s":"b","t":8.3,"i":0.4},{"p":"MP","s":"b","t":8.37,"i":1.13},{"p":"MP","s":"b","t":8.42,"i":0.3},{"p":"MP","s":"b","t":8.5,"i":0.1},{"p":"MP","s":"b","t":8.6,"i":0.3},{"p":"MP","s":"b","t":8.65,"i":4.05},{"p":"MP","s":"b","t":8.68,"i":3.5},{"p":"MP","s":"b","t":8.72,"i":3.7},{"p":"MP","s":"b","t":8.78,"i":1.0},{"p":"MP","s":"b","t":8.82,"i":1.9},{"p":"MP","s":"b","t":8.86,"i":1.2},{"p":"MP","s":"b","t":8.9,"i":1.5},{"p":"MP","s":"b","t":8.94,"i":0.5},{"p":"MP","s":"b","t":9.18,"i":0.5},{"p":"MP","s":"b","t":9.2,"i":0.86},{"p":"MP","s":"b","t":9.23,"i":4.0},{"p":"MP","s":"b","t":9.26,"i":4.2},{"p":"MP","s":"b","t":9.28,"i":1.5},{"p":"MP","s":"b","t":9.3,"i":0.4},{"p":"MP","s":"b","t":9.8,"i":0.2},{"p":"MP","s":"b","t":9.85,"i":0.35},{"p":"MP","s":"b","t":9.9,"i":0.1},{"p":"MP","s":"b","t":10.05,"i":0.2},{"p":"MP","s":"b","t":10.1,"i":0.4},{"p":"MP","s":"b","t":10.15,"i":0.1},{"p":"MP","s":"b","t":10.25,"i":0.3},{"p":"MP","s":"b","t":10.3,"i":0.1},{"p":"MP","s":"b","t":10.55,"i":0.3},{"p":"MP","s":"b","t":10.59,"i":1.78},{"p":"MP","s":"b","t":10.62,"i":0.5},{"p":"MP","s":"b","t":10.7,"i":0.1},{"p":"MP","s":"b","t":10.98,"i":0.2},{"p":"MP","s":"b","t":11.0,"i":4.6},{"p":"MP","s":"b","t":11.02,"i":4.91},{"p":"MP","s":"b","t":11.05,"i":4.5},{"p":"MP","s":"b","t":11.1,"i":0.3},{"p":"MP","s":"b","t":11.15,"i":0.1},{"p":"MP","s":"b","t":11.7,"i":0.1},{"p":"MP","s":"b","t":11.75,"i":0.2},{"p":"MP","s":"b","t":11.8,"i":0.05},{"p":"MP","s":"b","t":12.1,"i":0.1},{"p":"MP","s":"b","t":12.15,"i":0.2},{"p":"MP","s":"b","t":12.2,"i":0.05},{"p":"MP","s":"b","t":12.6,"i":0.3},{"p":"MP","s":"b","t":12.65,"i":0.6},{"p":"MP","s":"b","t":12.75,"i":0.7},{"p":"MP","s":"b","t":12.85,"i":2.5},{"p":"MP","s":"b","t":12.9,"i":4.05},{"p":"MP","s":"b","t":12.93,"i":2.6},{"p":"MP","s":"b","t":12.97,"i":2.0},{"p":"MP","s":"b","t":13.0,"i":3.5},{"p":"MP","s":"b","t":13.05,"i":2.8},{"p":"MP","s":"b","t":13.09,"i":4.21},{"p":"MP","s":"b","t":13.12,"i":3.0},{"p":"MP","s":"b","t":13.15,"i":3.9},{"p":"MP","s":"b","t":13.2,"i":2.0},{"p":"MP","s":"b","t":13.25,"i":4.3},{"p":"MP","s":"b","t":13.3,"i":2.8},{"p":"MP","s":"b","t":13.4,"i":3.2},{"p":"MP","s":"b","t":13.45,"i":2.6},{"p":"MP","s":"b","t":13.52,"i":4.8},{"p":"MP","s":"b","t":13.56,"i":5.18},{"p":"MP","s":"b","t":13.58,"i":4.2},{"p":"MP","s":"b","t":13.62,"i":4.5},{"p":"MP","s":"b","t":13.66,"i":3.0},{"p":"MP","s":"b","t":13.7,"i":3.5},{"p":"MP","s":"b","t":13.75,"i":1.5},{"p":"MP","s":"b","t":13.84,"i":0.8},{"p":"MP","s":"b","t":13.88,"i":1.5},{"p":"MP","s":"b","t":14.15,"i":2.5},{"p":"MP","s":"b","t":14.21,"i":3.34},{"p":"MP","s":"b","t":14.25,"i":3.0},{"p":"MP","s":"b","t":14.3,"i":2.8},{"p":"MP","s":"b","t":14.4,"i":2.0},{"p":"MP","s":"b","t":14.5,"i":0.6},{"p":"MP","s":"b","t":14.55,"i":0.3},{"p":"MP","s":"b","t":14.7,"i":1.5},{"p":"MP","s":"b","t":14.8,"i":2.2},{"p":"MP","s":"b","t":14.82,"i":2.27},{"p":"MP","s":"b","t":14.85,"i":2.0},{"p":"MP","s":"b","t":14.9,"i":1.5},{"p":"MP","s":"b","t":14.95,"i":0.6},{"p":"MP","s":"b","t":15.05,"i":0.4},{"p":"MP","s":"b","t":15.15,"i":0.2},{"p":"MP","s":"b","t":15.2,"i":0.05},{"p":"MP","s":"b","t":15.95,"i":0.05},{"p":"MP","s":"b","t":16.0,"i":0.15},{"p":"MP","s":"b","t":16.05,"i":0.05},{"p":"MP","s":"b","t":20,"i":0.05}
],
"lb": [
{"p":"C","txt":"1.309","t":1.34,"i":0.98},{"p":"C","txt":"4.452","t":4.45,"i":1.3},{"p":"C","txt":"5.173","t":5.48,"i":1.27},{"p":"C","txt":"6.284","t":6.3,"i":1.46},{"p":"C","txt":"7.357","t":7.09,"i":1.79},{"p":"C","txt":"8.042","t":8.05,"i":1.95},{"p":"C","txt":"8.507","t":8.28,"i":2.94},{"p":"C","txt":"8.632","t":8.17,"i":3.93},{"p":"C","txt":"8.716","t":8.28,"i":4.8},{"p":"C","txt":"9.117","t":9.15,"i":4.64},{"p":"C","txt":"9.238","t":9.99,"i":4.86},{"p":"C","txt":"9.314","t":9.88,"i":2.34},{"p":"C","txt":"10.543","t":10.2,"i":3.3},{"p":"C","txt":"10.990","t":11.61,"i":4.64},{"p":"C","txt":"11.134","t":11.78,"i":2.0},{"p":"C","txt":"11.651","t":11.84,"i":1.18},{"p":"C","txt":"12.876","t":12.54,"i":3.82},{"p":"C","txt":"13.207","t":12.5,"i":2.88},{"p":"C","txt":"13.344","t":13.48,"i":4.2},{"p":"C","txt":"13.909","t":14.46,"i":4.47},{"p":"C","txt":"14.640","t":14.67,"i":0.86},
{"p":"CP","txt":"1.318","t":1.36,"i":0.92},{"p":"CP","txt":"4.282","t":4.07,"i":1.36},{"p":"CP","txt":"4.469","t":4.45,"i":4.47},{"p":"CP","txt":"5.553","t":5.27,"i":1.53},{"p":"CP","txt":"6.288","t":6.3,"i":1.25},{"p":"CP","txt":"7.372","t":7.3,"i":0.98},{"p":"CP","txt":"8.064","t":7.77,"i":1.74},{"p":"CP","txt":"8.369","t":7.89,"i":4.25},{"p":"CP","txt":"8.531","t":7.79,"i":3.16},{"p":"CP","txt":"8.745","t":8.85,"i":4.74},{"p":"CP","txt":"9.157","t":9.62,"i":5.01},{"p":"CP","txt":"9.266","t":9.78,"i":3.43},{"p":"CP","txt":"9.343","t":9.92,"i":1.9},{"p":"CP","txt":"10.570","t":10.25,"i":2.6},{"p":"CP","txt":"11.012","t":11.58,"i":4.47},{"p":"CP","txt":"11.157","t":11.72,"i":2.12},{"p":"CP","txt":"12.842","t":12.71,"i":1.58},{"p":"CP","txt":"13.344","t":12.85,"i":2.61},{"p":"CP","txt":"13.468","t":12.92,"i":3.38},{"p":"CP","txt":"13.956","t":13.99,"i":3.32},{"p":"CP","txt":"13.856","t":14.79,"i":1.09},
{"p":"M","txt":"4.443","t":4.44,"i":2.37},{"p":"M","txt":"5.540","t":5.28,"i":2.37},{"p":"M","txt":"5.614","t":5.12,"i":1.27},{"p":"M","txt":"6.267","t":6.26,"i":1.95},{"p":"M","txt":"7.351","t":7.06,"i":1.95},{"p":"M","txt":"7.334","t":7.95,"i":2.62},{"p":"M","txt":"8.042","t":8.06,"i":1.35},{"p":"M","txt":"8.723","t":8.76,"i":4.23},{"p":"M","txt":"9.256","t":9.56,"i":4.82},{"p":"M","txt":"9.422","t":9.89,"i":3.47},{"p":"M","txt":"9.847","t":10.39,"i":2.45},{"p":"M","txt":"11.024","t":11.03,"i":6.4},{"p":"M","txt":"11.170","t":11.67,"i":2.2},{"p":"M","txt":"12.746","t":12.48,"i":5.5},{"p":"M","txt":"13.368","t":12.58,"i":7.53},{"p":"M","txt":"13.533","t":13.54,"i":7.28},{"p":"M","txt":"13.990","t":14.57,"i":7.87},{"p":"M","txt":"13.820","t":14.7,"i":6.77},{"p":"M","txt":"14.105","t":14.94,"i":4.99},{"p":"M","txt":"15.045","t":15.6,"i":3.89},{"p":"M","txt":"14.854","t":15.7,"i":2.54},{"p":"M","txt":"15.935","t":16.76,"i":2.45},
{"p":"MP","txt":"4.446","t":4.46,"i":2.75},{"p":"MP","txt":"5.538","t":5.3,"i":1.62},{"p":"MP","txt":"5.066","t":5.05,"i":0.7},{"p":"MP","txt":"6.273","t":6.29,"i":1.51},{"p":"MP","txt":"8.047","t":7.29,"i":1.89},{"p":"MP","txt":"8.350","t":8.06,"i":2.0},{"p":"MP","txt":"8.645","t":8.39,"i":4.91},{"p":"MP","txt":"8.724","t":8.23,"i":3.13},{"p":"MP","txt":"9.252","t":9.32,"i":4.53},{"p":"MP","txt":"9.326","t":9.81,"i":3.07},{"p":"MP","txt":"9.702","t":9.98,"i":1.73},{"p":"MP","txt":"11.010","t":11.03,"i":5.29},{"p":"MP","txt":"11.159","t":11.73,"i":1.73},{"p":"MP","txt":"11.274","t":11.9,"i":1.02},{"p":"MP","txt":"12.492","t":12.2,"i":2.43},{"p":"MP","txt":"12.879","t":12.43,"i":3.18},{"p":"MP","txt":"13.080","t":12.57,"i":4.96},{"p":"MP","txt":"13.522","t":13.54,"i":4.75},{"p":"MP","txt":"14.025","t":14.58,"i":4.96},{"p":"MP","txt":"14.200","t":14.75,"i":4.15},{"p":"MP","txt":"14.769","t":14.82,"i":2.7},{"p":"MP","txt":"14.958","t":15.45,"i":1.29}
],
"sg": [
{"p":"C","t":5.19,"t2":5.19,"i":0.8,"i2":0.63},{"p":"C","t":7.37,"t2":7.37,"i":1.31,"i2":1.19},{"p":"C","t":8.53,"t2":8.53,"i":2.49,"i2":2.39},{"p":"C","t":8.46,"t2":8.65,"i":3.63,"i2":3.36},{"p":"C","t":8.58,"t2":8.73,"i":4.39,"i2":4.01},{"p":"C","t":9.67,"t2":9.25,"i":4.5,"i2":3.63},{"p":"C","t":9.84,"t2":9.32,"i":2.6,"i2":3.2},{"p":"C","t":10.54,"t2":10.54,"i":2.77,"i2":2.66},{"p":"C","t":11.15,"t2":10.98,"i":4.82,"i2":5.09},{"p":"C","t":11.34,"t2":11.15,"i":2.28,"i2":2.49},{"p":"C","t":11.83,"t2":11.67,"i":0.82,"i2":0.46},{"p":"C","t":12.88,"t2":12.88,"i":3.3,"i2":3.2},{"p":"C","t":12.78,"t2":13.23,"i":2.55,"i2":1.68},{"p":"C","t":14.07,"t2":13.9,"i":4.17,"i2":3.79},
{"p":"CP","t":4.29,"t2":4.29,"i":0.9,"i2":0.69},{"p":"CP","t":4.46,"t2":4.46,"i":4.15,"i2":4.04},{"p":"CP","t":5.56,"t2":5.56,"i":1.12,"i2":0.9},{"p":"CP","t":8.05,"t2":8.05,"i":1.23,"i2":1.12},{"p":"CP","t":8.23,"t2":8.38,"i":3.82,"i2":3.45},{"p":"CP","t":8.13,"t2":8.54,"i":2.74,"i2":1.88},{"p":"CP","t":9.32,"t2":9.16,"i":4.58,"i2":4.2},{"p":"CP","t":9.44,"t2":9.28,"i":3.77,"i2":3.99},{"p":"CP","t":9.63,"t2":9.34,"i":2.15,"i2":3.23},{"p":"CP","t":10.59,"t2":10.59,"i":2.31,"i2":2.15},{"p":"CP","t":11.15,"t2":11.01,"i":4.8,"i2":5.12},{"p":"CP","t":11.31,"t2":11.17,"i":1.66,"i2":1.34},{"p":"CP","t":12.71,"t2":12.84,"i":1.23,"i2":0.85},{"p":"CP","t":13.23,"t2":13.36,"i":2.26,"i2":1.88},{"p":"CP","t":13.32,"t2":13.47,"i":3.01,"i2":2.64},{"p":"CP","t":14.4,"t2":13.88,"i":1.23,"i2":1.93},
{"p":"M","t":11.03,"t2":11.03,"i":5.67,"i2":5.55},{"p":"M","t":12.76,"t2":12.76,"i":4.82,"i2":4.65},{"p":"M","t":5.56,"t2":5.56,"i":1.66,"i2":1.49},{"p":"M","t":7.37,"t2":7.37,"i":1.18,"i2":1.05},{"p":"M","t":9.25,"t2":9.25,"i":4.06,"i2":3.89},{"p":"M","t":5.42,"t2":5.61,"i":0.68,"i2":0.34},{"p":"M","t":7.63,"t2":7.36,"i":1.95,"i2":0.42},{"p":"M","t":9.57,"t2":9.42,"i":2.96,"i2":2.37},{"p":"M","t":10.05,"t2":9.86,"i":1.69,"i2":1.35},{"p":"M","t":11.35,"t2":11.2,"i":1.69,"i2":1.1},{"p":"M","t":12.97,"t2":13.38,"i":6.94,"i2":5.67},{"p":"M","t":14.17,"t2":13.98,"i":7.36,"i2":6.77},{"p":"M","t":14.28,"t2":13.81,"i":6.09,"i2":5.16},{"p":"M","t":14.56,"t2":14.09,"i":5.58,"i2":6.43},{"p":"M","t":15.33,"t2":14.84,"i":2.88,"i2":3.81},{"p":"M","t":15.2,"t2":14.99,"i":3.3,"i2":2.96},{"p":"M","t":16.38,"t2":16.0,"i":1.86,"i2":0.6},
{"p":"MP","t":5.56,"t2":5.56,"i":1.13,"i2":1.02},{"p":"MP","t":8.37,"t2":8.37,"i":1.46,"i2":1.35},{"p":"MP","t":8.65,"t2":8.65,"i":4.42,"i2":4.31},{"p":"MP","t":9.72,"t2":9.72,"i":1.3,"i2":1.19},{"p":"MP","t":12.53,"t2":12.53,"i":2.05,"i2":1.89},{"p":"MP","t":7.57,"t2":8.06,"i":1.51,"i2":0.86},{"p":"MP","t":8.25,"t2":8.72,"i":3.45,"i2":3.99},{"p":"MP","t":9.51,"t2":9.35,"i":3.34,"i2":3.78},{"p":"MP","t":11.36,"t2":11.19,"i":1.35,"i2":1.13},{"p":"MP","t":11.5,"t2":11.31,"i":0.65,"i2":0.38},{"p":"MP","t":12.41,"t2":12.9,"i":3.51,"i2":4.05},{"p":"MP","t":12.92,"t2":13.09,"i":4.64,"i2":4.21},{"p":"MP","t":14.19,"t2":14.05,"i":4.64,"i2":4.31},{"p":"MP","t":14.37,"t2":14.22,"i":3.72,"i2":3.4},{"p":"MP","t":15.12,"t2":14.98,"i":0.86,"i2":0.54}
],
"red": [
{"p":"C","t":4.07,"i":7.1,"i2":-0.05},{"p":"C","t":7.08,"i":7.1,"i2":-0.05},{"p":"C","t":12.0,"i":7.1,"i2":-0.05},
{"p":"CP","t":4.07,"i":7.3,"i2":-0.05},{"p":"CP","t":7.08,"i":7.3,"i2":-0.05},{"p":"CP","t":12.0,"i":7.3,"i2":-0.05},
{"p":"M","t":4.07,"i":11.5,"i2":-0.08},{"p":"M","t":7.08,"i":11.5,"i2":-0.08},{"p":"M","t":12.0,"i":11.5,"i2":-0.08},
{"p":"MP","t":4.07,"i":7.5,"i2":-0.45},{"p":"MP","t":7.08,"i":7.5,"i2":-0.45},{"p":"MP","t":12.0,"i":7.5,"i2":-0.45}
],
"tag": [
{"p":"C","txt":"C","t":1.04,"i":4.17},{"p":"CP","txt":"CP","t":1.0,"i":4.17},{"p":"M","txt":"M","t":1.04,"i":6.22},{"p":"MP","txt":"MP","t":0.97,"i":4.27}
],
"arr": [
{"p":"C","t":-0.13,"i":0.3},{"p":"CP","t":-0.13,"i":0.3},{"p":"M","t":-0.13,"i":0.45},{"p":"MP","t":-0.13,"i":0.3}
],
"cat": [
{"txt":"Triacylglycerols","t":14.19,"i":8.07},{"txt":"Phospholipids","t":9.53,"i":8.07},{"txt":"Lysophospholipids","t":5.6,"i":8.07}
]
},
"hconcat": [
{
"width": 154, "height": 1426,
"encoding": {
 "x": {"field": "i", "type": "quantitative", "scale": {"domain": [0, 5], "reverse": true, "nice": false, "zero": false},
  "axis": {"values": [0,0.5,1,1.5,2,2.5,3,3.5,4,4.5,5], "labelExpr": "datum.value == 0 ? '0e0' : (datum.value % 1 == 0 ? datum.value + 'e6' : '')", "labelAngle": -90, "labelFontSize": 17, "labelFlush": false, "labelOverlap": false, "labelPadding": 6, "tickSize": 5, "title": "Intensity", "titleAngle": 180, "titleBaseline": "bottom", "titleFontSize": 17, "titlePadding": 62}},
 "y": {"field": "t", "type": "quantitative", "scale": {"domain": [0, 20], "nice": false, "zero": false},
  "axis": {"orient": "right", "values": [0,0.5,1,1.5,2,2.5,3,3.5,4,4.5,5,5.5,6,6.5,7,7.5,8,8.5,9,9.5,10,10.5,11,11.5,12,12.5,13,13.5,14,14.5,15,15.5,16,16.5,17,17.5,18,18.5,19,19.5,20], "labelExpr": "datum.value >= 1 && datum.value <= 19 && datum.value % 1 == 0 ? '' + datum.value : ''", "labelAngle": -90, "labelAlign": "center", "labelBaseline": "top", "labelFontSize": 16, "labelPadding": 7, "labelFlush": false, "labelOverlap": false, "tickSize": 4, "title": null}}
},
"layer": [
 {"data": {"name": "tr"}, "transform": [{"filter": "datum.p == 'C' && datum.s == 'g'"}], "mark": {"type": "line", "color": "#9d9d9d", "strokeWidth": 1.1}, "encoding": {"order": {"field": "t", "type": "quantitative"}}},
 {"data": {"name": "tr"}, "transform": [{"filter": "datum.p == 'C' && datum.s == 'b'"}], "mark": {"type": "line", "color": "#1414ff", "strokeWidth": 1.1}, "encoding": {"order": {"field": "t", "type": "quantitative"}}},
 {"data": {"name": "red"}, "transform": [{"filter": "datum.p == 'C'"}], "mark": {"type": "rule", "color": "#c00000", "strokeWidth": 3.5, "strokeDash": [10, 5]}, "encoding": {"x2": {"field": "i2"}}},
 {"data": {"name": "sg"}, "transform": [{"filter": "datum.p == 'C'"}], "mark": {"type": "rule", "color": "#000", "strokeWidth": 1}, "encoding": {"x2": {"field": "i2"}, "y2": {"field": "t2"}}},
 {"data": {"name": "lb"}, "transform": [{"filter": "datum.p == 'C'"}], "mark": {"type": "text", "angle": 270, "fontSize": 16, "color": "#000", "align": "center", "baseline": "middle"}, "encoding": {"text": {"field": "txt"}}},
 {"data": {"name": "tag"}, "transform": [{"filter": "datum.p == 'C'"}], "mark": {"type": "text", "angle": 270, "fontSize": 35, "fontWeight": "bold", "color": "#000", "align": "center", "baseline": "middle"}, "encoding": {"text": {"field": "txt"}}},
 {"data": {"name": "arr"}, "transform": [{"filter": "datum.p == 'C'"}], "mark": {"type": "point", "shape": "M-0.4,1L-0.4,0.1L-1,0.1L0,-1L1,0.1L0.4,0.1L0.4,1Z", "filled": true, "fill": "#1a2eff", "stroke": "#00001a", "strokeWidth": 0.8, "size": 260, "opacity": 1}},
 {"data": {"name": "cat"}, "mark": {"type": "text", "angle": 270, "fontSize": 25, "fontWeight": "bold", "color": "#c00000", "align": "center", "baseline": "middle"}, "encoding": {"text": {"field": "txt"}}}
]
},
{
"width": 154, "height": 1426,
"encoding": {
 "x": {"field": "i", "type": "quantitative", "scale": {"domain": [0, 5], "reverse": true, "nice": false, "zero": false},
  "axis": {"values": [0,0.5,1,1.5,2,2.5,3,3.5,4,4.5,5], "labelExpr": "datum.value == 0 ? '0e0' : (datum.value % 1 == 0 ? datum.value + 'e6' : '')", "labelAngle": -90, "labelFontSize": 17, "labelFlush": false, "labelOverlap": false, "labelPadding": 6, "tickSize": 5, "title": "Intensity", "titleAngle": 180, "titleBaseline": "bottom", "titleFontSize": 17, "titlePadding": 62}},
 "y": {"field": "t", "type": "quantitative", "scale": {"domain": [0, 20], "nice": false, "zero": false},
  "axis": {"orient": "right", "values": [0,0.5,1,1.5,2,2.5,3,3.5,4,4.5,5,5.5,6,6.5,7,7.5,8,8.5,9,9.5,10,10.5,11,11.5,12,12.5,13,13.5,14,14.5,15,15.5,16,16.5,17,17.5,18,18.5,19,19.5,20], "labelExpr": "datum.value >= 1 && datum.value <= 19 && datum.value % 1 == 0 ? '' + datum.value : ''", "labelAngle": -90, "labelAlign": "center", "labelBaseline": "top", "labelFontSize": 16, "labelPadding": 7, "labelFlush": false, "labelOverlap": false, "tickSize": 4, "title": null}}
},
"layer": [
 {"data": {"name": "tr"}, "transform": [{"filter": "datum.p == 'CP' && datum.s == 'g'"}], "mark": {"type": "line", "color": "#9d9d9d", "strokeWidth": 1.1}, "encoding": {"order": {"field": "t", "type": "quantitative"}}},
 {"data": {"name": "tr"}, "transform": [{"filter": "datum.p == 'CP' && datum.s == 'b'"}], "mark": {"type": "line", "color": "#1414ff", "strokeWidth": 1.1}, "encoding": {"order": {"field": "t", "type": "quantitative"}}},
 {"data": {"name": "red"}, "transform": [{"filter": "datum.p == 'CP'"}], "mark": {"type": "rule", "color": "#c00000", "strokeWidth": 3.5, "strokeDash": [10, 5]}, "encoding": {"x2": {"field": "i2"}}},
 {"data": {"name": "sg"}, "transform": [{"filter": "datum.p == 'CP'"}], "mark": {"type": "rule", "color": "#000", "strokeWidth": 1}, "encoding": {"x2": {"field": "i2"}, "y2": {"field": "t2"}}},
 {"data": {"name": "lb"}, "transform": [{"filter": "datum.p == 'CP'"}], "mark": {"type": "text", "angle": 270, "fontSize": 16, "color": "#000", "align": "center", "baseline": "middle"}, "encoding": {"text": {"field": "txt"}}},
 {"data": {"name": "tag"}, "transform": [{"filter": "datum.p == 'CP'"}], "mark": {"type": "text", "angle": 270, "fontSize": 35, "fontWeight": "bold", "color": "#000", "align": "center", "baseline": "middle"}, "encoding": {"text": {"field": "txt"}}},
 {"data": {"name": "arr"}, "transform": [{"filter": "datum.p == 'CP'"}], "mark": {"type": "point", "shape": "M-0.4,1L-0.4,0.1L-1,0.1L0,-1L1,0.1L0.4,0.1L0.4,1Z", "filled": true, "fill": "#1a2eff", "stroke": "#00001a", "strokeWidth": 0.8, "size": 260, "opacity": 1}}
]
},
{
"width": 154, "height": 1426,
"encoding": {
 "x": {"field": "i", "type": "quantitative", "scale": {"domain": [0, 7.8], "reverse": true, "nice": false, "zero": false},
  "axis": {"values": [0,1,2,3,4,5,6,7], "labelExpr": "datum.value == 0 ? '0e0' : (datum.value % 2 == 0 ? datum.value + 'e6' : '')", "labelAngle": -90, "labelFontSize": 17, "labelFlush": false, "labelOverlap": false, "labelPadding": 6, "tickSize": 5, "title": "Intensity", "titleAngle": 180, "titleBaseline": "bottom", "titleFontSize": 17, "titlePadding": 62}},
 "y": {"field": "t", "type": "quantitative", "scale": {"domain": [0, 20], "nice": false, "zero": false},
  "axis": {"orient": "right", "values": [0,0.5,1,1.5,2,2.5,3,3.5,4,4.5,5,5.5,6,6.5,7,7.5,8,8.5,9,9.5,10,10.5,11,11.5,12,12.5,13,13.5,14,14.5,15,15.5,16,16.5,17,17.5,18,18.5,19,19.5,20], "labelExpr": "datum.value >= 1 && datum.value <= 19 && datum.value % 1 == 0 ? '' + datum.value : ''", "labelAngle": -90, "labelAlign": "center", "labelBaseline": "top", "labelFontSize": 16, "labelPadding": 7, "labelFlush": false, "labelOverlap": false, "tickSize": 4, "title": null}}
},
"layer": [
 {"data": {"name": "tr"}, "transform": [{"filter": "datum.p == 'M' && datum.s == 'g'"}], "mark": {"type": "line", "color": "#9d9d9d", "strokeWidth": 1.1}, "encoding": {"order": {"field": "t", "type": "quantitative"}}},
 {"data": {"name": "tr"}, "transform": [{"filter": "datum.p == 'M' && datum.s == 'b'"}], "mark": {"type": "line", "color": "#1414ff", "strokeWidth": 1.1}, "encoding": {"order": {"field": "t", "type": "quantitative"}}},
 {"data": {"name": "red"}, "transform": [{"filter": "datum.p == 'M'"}], "mark": {"type": "rule", "color": "#c00000", "strokeWidth": 3.5, "strokeDash": [10, 5]}, "encoding": {"x2": {"field": "i2"}}},
 {"data": {"name": "sg"}, "transform": [{"filter": "datum.p == 'M'"}], "mark": {"type": "rule", "color": "#000", "strokeWidth": 1}, "encoding": {"x2": {"field": "i2"}, "y2": {"field": "t2"}}},
 {"data": {"name": "lb"}, "transform": [{"filter": "datum.p == 'M'"}], "mark": {"type": "text", "angle": 270, "fontSize": 16, "color": "#000", "align": "center", "baseline": "middle"}, "encoding": {"text": {"field": "txt"}}},
 {"data": {"name": "tag"}, "transform": [{"filter": "datum.p == 'M'"}], "mark": {"type": "text", "angle": 270, "fontSize": 35, "fontWeight": "bold", "color": "#000", "align": "center", "baseline": "middle"}, "encoding": {"text": {"field": "txt"}}},
 {"data": {"name": "arr"}, "transform": [{"filter": "datum.p == 'M'"}], "mark": {"type": "point", "shape": "M-0.4,1L-0.4,0.1L-1,0.1L0,-1L1,0.1L0.4,0.1L0.4,1Z", "filled": true, "fill": "#1a2eff", "stroke": "#00001a", "strokeWidth": 0.8, "size": 260, "opacity": 1}}
]
},
{
"width": 154, "height": 1426,
"encoding": {
 "x": {"field": "i", "type": "quantitative", "scale": {"domain": [0, 5], "reverse": true, "nice": false, "zero": false},
  "axis": {"values": [0,0.5,1,1.5,2,2.5,3,3.5,4,4.5,5], "labelExpr": "datum.value == 0 ? '0e0' : (datum.value % 1 == 0 ? datum.value + 'e6' : '')", "labelAngle": -90, "labelFontSize": 17, "labelFlush": false, "labelOverlap": false, "labelPadding": 6, "tickSize": 5, "title": "Intensity", "titleAngle": 180, "titleBaseline": "bottom", "titleFontSize": 17, "titlePadding": 62}},
 "y": {"field": "t", "type": "quantitative", "scale": {"domain": [0, 20], "nice": false, "zero": false},
  "axis": {"orient": "right", "values": [0,0.5,1,1.5,2,2.5,3,3.5,4,4.5,5,5.5,6,6.5,7,7.5,8,8.5,9,9.5,10,10.5,11,11.5,12,12.5,13,13.5,14,14.5,15,15.5,16,16.5,17,17.5,18,18.5,19,19.5,20], "labelExpr": "datum.value >= 1 && datum.value <= 19 && datum.value % 1 == 0 ? '' + datum.value : ''", "labelAngle": -90, "labelAlign": "center", "labelBaseline": "top", "labelFontSize": 16, "labelPadding": 7, "labelFlush": false, "labelOverlap": false, "tickSize": 4, "title": "Time, min", "titleAngle": 270, "titleBaseline": "top", "titleFontSize": 16, "titlePadding": 7}}
},
"layer": [
 {"data": {"name": "tr"}, "transform": [{"filter": "datum.p == 'MP' && datum.s == 'g'"}], "mark": {"type": "line", "color": "#9d9d9d", "strokeWidth": 1.1}, "encoding": {"order": {"field": "t", "type": "quantitative"}}},
 {"data": {"name": "tr"}, "transform": [{"filter": "datum.p == 'MP' && datum.s == 'b'"}], "mark": {"type": "line", "color": "#1414ff", "strokeWidth": 1.1}, "encoding": {"order": {"field": "t", "type": "quantitative"}}},
 {"data": {"name": "red"}, "transform": [{"filter": "datum.p == 'MP'"}], "mark": {"type": "rule", "color": "#c00000", "strokeWidth": 3.5, "strokeDash": [10, 5]}, "encoding": {"x2": {"field": "i2"}}},
 {"data": {"name": "sg"}, "transform": [{"filter": "datum.p == 'MP'"}], "mark": {"type": "rule", "color": "#000", "strokeWidth": 1}, "encoding": {"x2": {"field": "i2"}, "y2": {"field": "t2"}}},
 {"data": {"name": "lb"}, "transform": [{"filter": "datum.p == 'MP'"}], "mark": {"type": "text", "angle": 270, "fontSize": 16, "color": "#000", "align": "center", "baseline": "middle"}, "encoding": {"text": {"field": "txt"}}},
 {"data": {"name": "tag"}, "transform": [{"filter": "datum.p == 'MP'"}], "mark": {"type": "text", "angle": 270, "fontSize": 35, "fontWeight": "bold", "color": "#000", "align": "center", "baseline": "middle"}, "encoding": {"text": {"field": "txt"}}},
 {"data": {"name": "arr"}, "transform": [{"filter": "datum.p == 'MP'"}], "mark": {"type": "point", "shape": "M-0.4,1L-0.4,0.1L-1,0.1L0,-1L1,0.1L0.4,0.1L0.4,1Z", "filled": true, "fill": "#1a2eff", "stroke": "#00001a", "strokeWidth": 0.8, "size": 260, "opacity": 1}}
]
}
]
}
